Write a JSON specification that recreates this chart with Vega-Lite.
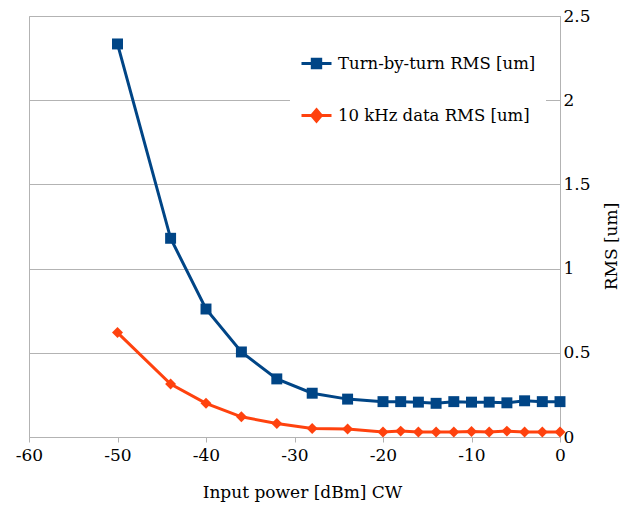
{
  "$schema": "https://vega.github.io/schema/vega-lite/v6.json",
  "width": 531,
  "height": 421,
  "autosize": {"type": "none"},
  "padding": {"left": 29, "top": 16, "right": 70, "bottom": 71},
  "background": "white",
  "config": {
    "font": "DejaVu Serif",
    "view": {"stroke": "#b3b3b3", "strokeWidth": 1}
  },
  "data": {
    "values": [
      {"power": -50, "rms": 2.334, "series": "Turn-by-turn RMS [um]"},
      {"power": -44, "rms": 1.18, "series": "Turn-by-turn RMS [um]"},
      {"power": -40, "rms": 0.76, "series": "Turn-by-turn RMS [um]"},
      {"power": -36, "rms": 0.505, "series": "Turn-by-turn RMS [um]"},
      {"power": -32, "rms": 0.345, "series": "Turn-by-turn RMS [um]"},
      {"power": -28, "rms": 0.26, "series": "Turn-by-turn RMS [um]"},
      {"power": -24, "rms": 0.225, "series": "Turn-by-turn RMS [um]"},
      {"power": -20, "rms": 0.21, "series": "Turn-by-turn RMS [um]"},
      {"power": -18, "rms": 0.21, "series": "Turn-by-turn RMS [um]"},
      {"power": -16, "rms": 0.207, "series": "Turn-by-turn RMS [um]"},
      {"power": -14, "rms": 0.2, "series": "Turn-by-turn RMS [um]"},
      {"power": -12, "rms": 0.21, "series": "Turn-by-turn RMS [um]"},
      {"power": -10, "rms": 0.207, "series": "Turn-by-turn RMS [um]"},
      {"power": -8, "rms": 0.207, "series": "Turn-by-turn RMS [um]"},
      {"power": -6, "rms": 0.203, "series": "Turn-by-turn RMS [um]"},
      {"power": -4, "rms": 0.215, "series": "Turn-by-turn RMS [um]"},
      {"power": -2, "rms": 0.21, "series": "Turn-by-turn RMS [um]"},
      {"power": 0, "rms": 0.21, "series": "Turn-by-turn RMS [um]"},
      {"power": -50, "rms": 0.62, "series": "10 kHz data RMS [um]"},
      {"power": -44, "rms": 0.315, "series": "10 kHz data RMS [um]"},
      {"power": -40, "rms": 0.2, "series": "10 kHz data RMS [um]"},
      {"power": -36, "rms": 0.12, "series": "10 kHz data RMS [um]"},
      {"power": -32, "rms": 0.08, "series": "10 kHz data RMS [um]"},
      {"power": -28, "rms": 0.05, "series": "10 kHz data RMS [um]"},
      {"power": -24, "rms": 0.048, "series": "10 kHz data RMS [um]"},
      {"power": -20, "rms": 0.03, "series": "10 kHz data RMS [um]"},
      {"power": -18, "rms": 0.035, "series": "10 kHz data RMS [um]"},
      {"power": -16, "rms": 0.03, "series": "10 kHz data RMS [um]"},
      {"power": -14, "rms": 0.03, "series": "10 kHz data RMS [um]"},
      {"power": -12, "rms": 0.03, "series": "10 kHz data RMS [um]"},
      {"power": -10, "rms": 0.033, "series": "10 kHz data RMS [um]"},
      {"power": -8, "rms": 0.03, "series": "10 kHz data RMS [um]"},
      {"power": -6, "rms": 0.035, "series": "10 kHz data RMS [um]"},
      {"power": -4, "rms": 0.03, "series": "10 kHz data RMS [um]"},
      {"power": -2, "rms": 0.03, "series": "10 kHz data RMS [um]"},
      {"power": 0, "rms": 0.03, "series": "10 kHz data RMS [um]"}
    ]
  },
  "encoding": {
    "x": {
      "field": "power",
      "type": "quantitative",
      "scale": {"domain": [-60, 0], "nice": false, "zero": false},
      "axis": {
        "values": [-60, -50, -40, -30, -20, -10, 0],
        "labelExpr": "toString(datum.value)",
        "labelFlush": false,
        "labelOverlap": false,
        "title": "Input power [dBm] CW",
        "titleX": 273,
        "grid": false,
        "domainColor": "#b3b3b3",
        "tickColor": "#b3b3b3",
        "tickSize": 5,
        "labelFontSize": 17,
        "labelColor": "#000000",
        "labelPadding": 5,
        "titleFontSize": 17,
        "titleFontWeight": "normal",
        "titleColor": "#000000",
        "titlePadding": 21
      }
    },
    "y": {
      "field": "rms",
      "type": "quantitative",
      "scale": {"domain": [0, 2.5], "nice": false},
      "axis": {
        "orient": "right",
        "values": [0, 0.5, 1, 1.5, 2, 2.5],
        "labelExpr": "toString(datum.value)",
        "labelFlush": false,
        "labelOverlap": false,
        "title": "RMS [um]",
        "titleY": 230,
        "grid": true,
        "gridColor": "#b3b3b3",
        "gridOpacity": 1,
        "ticks": false,
        "domainColor": "#b3b3b3",
        "labelFontSize": 17,
        "labelColor": "#000000",
        "labelPadding": 3,
        "titleFontSize": 17,
        "titleFontWeight": "normal",
        "titleColor": "#000000",
        "titleAngle": 270,
        "titlePadding": 30
      }
    },
    "color": {
      "field": "series",
      "type": "nominal",
      "scale": {
        "domain": ["Turn-by-turn RMS [um]", "10 kHz data RMS [um]"],
        "range": ["#004586", "#ff420e"]
      },
      "legend": {
        "title": null,
        "orient": "none",
        "legendX": 261,
        "legendY": 21,
        "padding": 10,
        "fillColor": "white",
        "labelFontSize": 16.5,
        "labelColor": "#000000",
        "labelLimit": 400,
        "labelOffset": 5,
        "symbolSize": 900,
        "rowPadding": 25,
        "encode": {
          "symbols": {
            "update": {
              "shape": {"signal": "datum.value === 'Turn-by-turn RMS [um]' ? 'M-1,0H1M-0.28,-0.28H0.28V0.28H-0.28Z' : 'M-1,0H1M0,-0.38L0.32,0L0,0.38L-0.32,0Z'"},
              "fill": {"signal": "datum.value === 'Turn-by-turn RMS [um]' ? '#004586' : '#ff420e'"},
              "stroke": {"signal": "datum.value === 'Turn-by-turn RMS [um]' ? '#004586' : '#ff420e'"},
              "strokeWidth": {"value": 3},
              "opacity": {"value": 1},
              "fillOpacity": {"value": 1},
              "strokeOpacity": {"value": 1}
            }
          }
        }
      }
    }
  },
  "layer": [
    {
      "mark": {"type": "line", "strokeWidth": 3}
    },
    {
      "mark": {"type": "point", "filled": true, "opacity": 1},
      "encoding": {
        "shape": {
          "condition": {"test": "datum.series === '10 kHz data RMS [um]'", "value": "diamond"},
          "value": "square"
        },
        "size": {"value": 120}
      }
    }
  ]
}
